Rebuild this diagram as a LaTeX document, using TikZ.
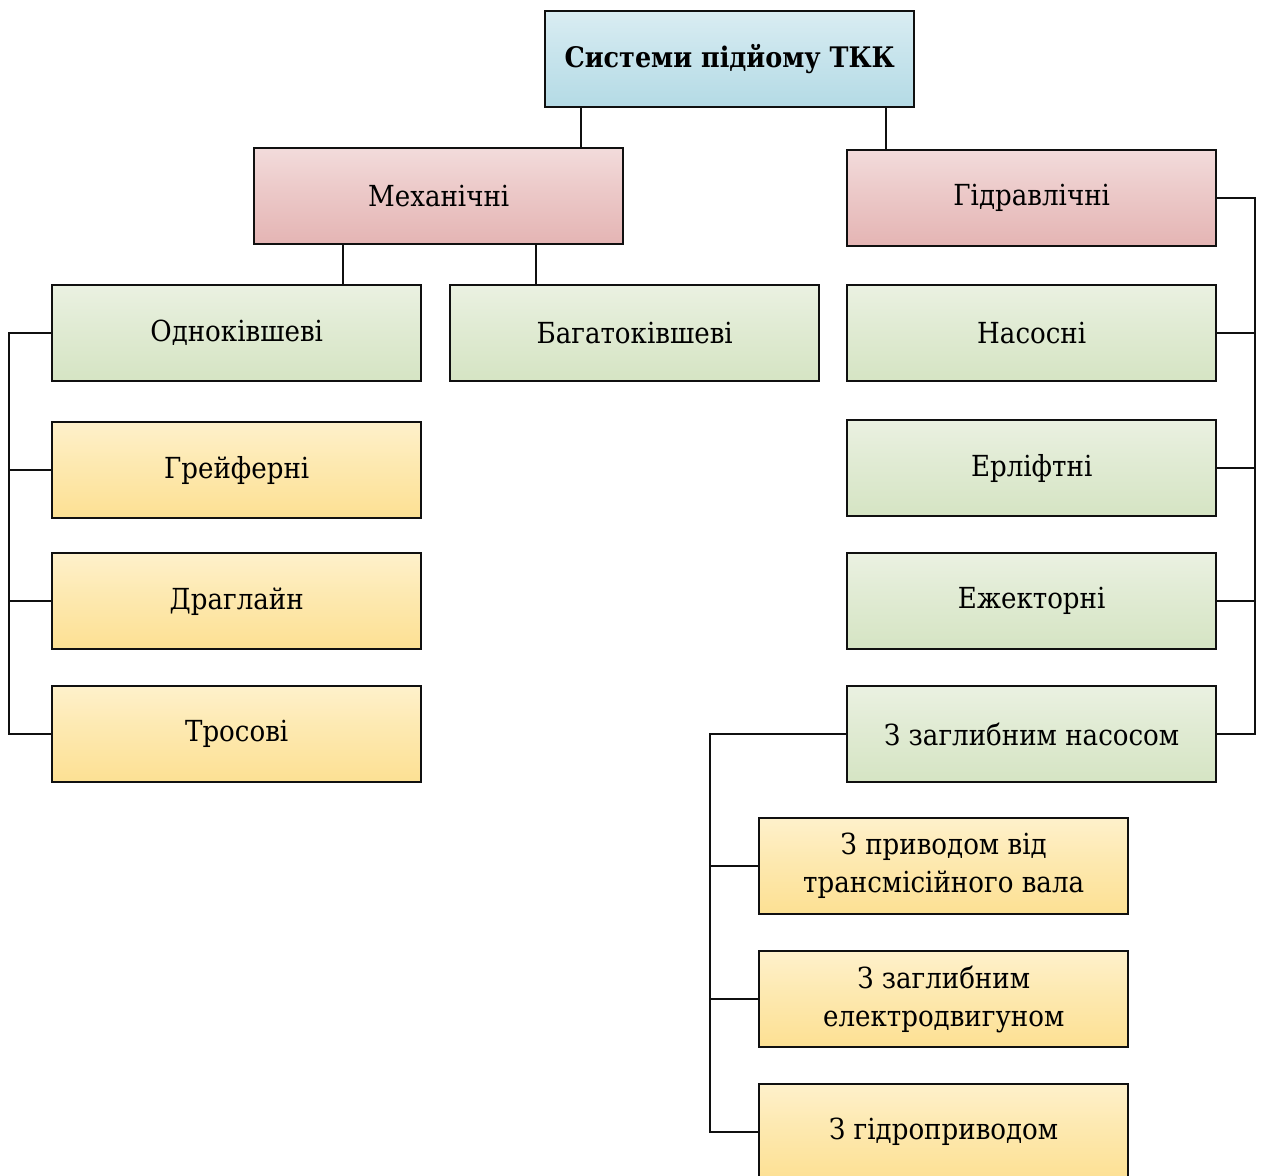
\documentclass[tikz,border=0pt]{standalone}
\usepackage{fontspec}
\setmainfont{DejaVu Serif}[FakeStretch=0.9]
\definecolor{blueT}{HTML}{EEF7FA}
\definecolor{blueB}{HTML}{ABD6E2}
\definecolor{pinkT}{HTML}{FAF1F1}
\definecolor{pinkB}{HTML}{E1ABAA}
\definecolor{greenT}{HTML}{F6F8F2}
\definecolor{greenB}{HTML}{D0E1BC}
\definecolor{yellT}{HTML}{FFFAEA}
\definecolor{yellB}{HTML}{FCDC85}
\definecolor{edge}{HTML}{101010}
% Office-like light gradients: pale at the top, deepest just above the bottom edge
\pgfdeclareverticalshading{blueshade}{100bp}{color(0bp)=(blueB!80!white); color(12bp)=(blueB); color(55bp)=(blueB!55!blueT); color(100bp)=(blueT)}
\pgfdeclareverticalshading{pinkshade}{100bp}{color(0bp)=(pinkB!80!white); color(12bp)=(pinkB); color(55bp)=(pinkB!55!pinkT); color(100bp)=(pinkT)}
\pgfdeclareverticalshading{greenshade}{100bp}{color(0bp)=(greenB!80!white); color(12bp)=(greenB); color(55bp)=(greenB!55!greenT); color(100bp)=(greenT)}
\pgfdeclareverticalshading{yellshade}{100bp}{color(0bp)=(yellB!80!white); color(12bp)=(yellB); color(55bp)=(yellB!55!yellT); color(100bp)=(yellT)}
\tikzset{
  x=1pt, y=-1pt,
  box/.style={draw=edge, line width=2.4pt, anchor=north west, minimum width=369pt,
    minimum height=96pt, align=center, inner sep=2pt, font=\fontsize{29}{38}\selectfont},
  bluebox/.style={box, shading=blueshade},
  pinkbox/.style={box, shading=pinkshade},
  greenbox/.style={box, shading=greenshade},
  yellbox/.style={box, shading=yellshade},
  link/.style={draw=edge, line width=2.4pt}
}
\begin{document}
\begin{tikzpicture}
\useasboundingbox (0,0) rectangle (1262,1176);
\clip (0,0) rectangle (1262,1176);

% top level
\node[bluebox, font=\fontsize{28.3}{38}\selectfont\bfseries] (root) at (544,10) {Системи підйому ТКК};

% second level
\node[pinkbox] (mech) at (253,147) {Механічні};
\node[pinkbox] (hydr) at (846,149) {Гідравлічні};

% mechanical branch
\node[greenbox] (one) at (51,284) {Одноківшеві};
\node[greenbox] (many) at (449,284) {Багатоківшеві};
\node[yellbox] (grab) at (51,421) {Грейферні};
\node[yellbox] (drag) at (51,552) {Драглайн};
\node[yellbox] (rope) at (51,685) {Тросові};

% hydraulic branch
\node[greenbox] (pump) at (846,284) {Насосні};
\node[greenbox] (air) at (846,419) {Ерліфтні};
\node[greenbox] (ejec) at (846,552) {Ежекторні};
\node[greenbox] (sub) at (846,685) {З заглибним насосом};

% submersible pump drives
\node[yellbox] (shaft) at (758,817) {З приводом від\\трансмісійного вала};
\node[yellbox] (motor) at (758,950) {З заглибним\\електродвигуном};
\node[yellbox] (hdrv) at (758,1083) {З гідроприводом};

% bus coordinates
\coordinate (lbus) at (9,0);
\coordinate (rbus) at (1255,0);
\coordinate (bbus) at (710,0);

% connectors
\draw[link] (root.south -| 581,0) -- (mech.north -| 581,0);
\draw[link] (root.south -| 886,0) -- (hydr.north -| 886,0);
\draw[link] (mech.south -| 343,0) -- (one.north -| 343,0);
\draw[link] (mech.south -| 536,0) -- (many.north -| 536,0);

\draw[link] (one.west) -- (one.west -| lbus) |- (grab.west);
\draw[link] (one.west -| lbus) |- (drag.west);
\draw[link] (one.west -| lbus) |- (rope.west);

\draw[link] (hydr.east) -- (hydr.east -| rbus) |- (pump.east);
\draw[link] (hydr.east -| rbus) |- (air.east);
\draw[link] (hydr.east -| rbus) |- (ejec.east);
\draw[link] (hydr.east -| rbus) |- (sub.east);

\draw[link] (sub.west) -- (sub.west -| bbus) |- (shaft.west);
\draw[link] (sub.west -| bbus) |- (motor.west);
\draw[link] (sub.west -| bbus) |- (hdrv.west);
\end{tikzpicture}
\end{document}
